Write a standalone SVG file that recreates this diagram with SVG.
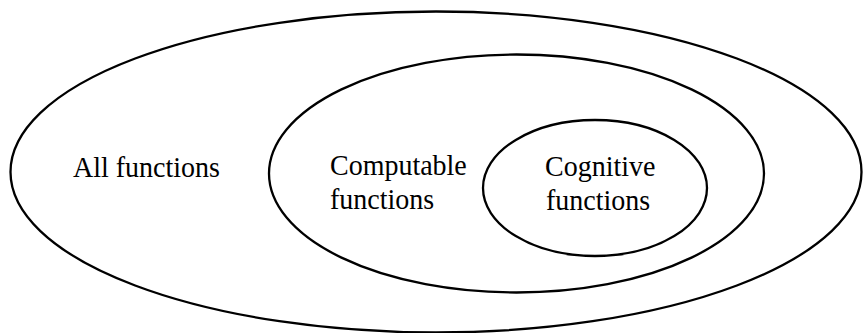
<svg xmlns="http://www.w3.org/2000/svg" width="863" height="333" viewBox="0 0 863 333">
<style>
.set{fill:none;stroke:#000;stroke-width:2.3}
.lbl{font-family:"Liberation Serif","Times New Roman",serif;font-size:28px;fill:#000}
</style>
<rect width="863" height="333" fill="#fff"/>
<g id="all">
<ellipse class="set" cx="436" cy="172" rx="425.5" ry="160.5"/>
<text class="lbl" transform="translate(73,177) scale(1,1.08)">All functions</text>
</g>
<g id="computable">
<ellipse class="set" cx="516.5" cy="173.5" rx="247.5" ry="119"/>
<text class="lbl" transform="translate(330,175) scale(1,1.08)">Computable</text>
<text class="lbl" transform="translate(330,209) scale(1,1.08)">functions</text>
</g>
<g id="cognitive">
<ellipse class="set" cx="595" cy="188" rx="112" ry="68"/>
<text class="lbl" transform="translate(545,176) scale(1,1.08)">Cognitive</text>
<text class="lbl" transform="translate(546,210) scale(1,1.08)">functions</text>
</g>
<g id="connectors"/>
</svg>
